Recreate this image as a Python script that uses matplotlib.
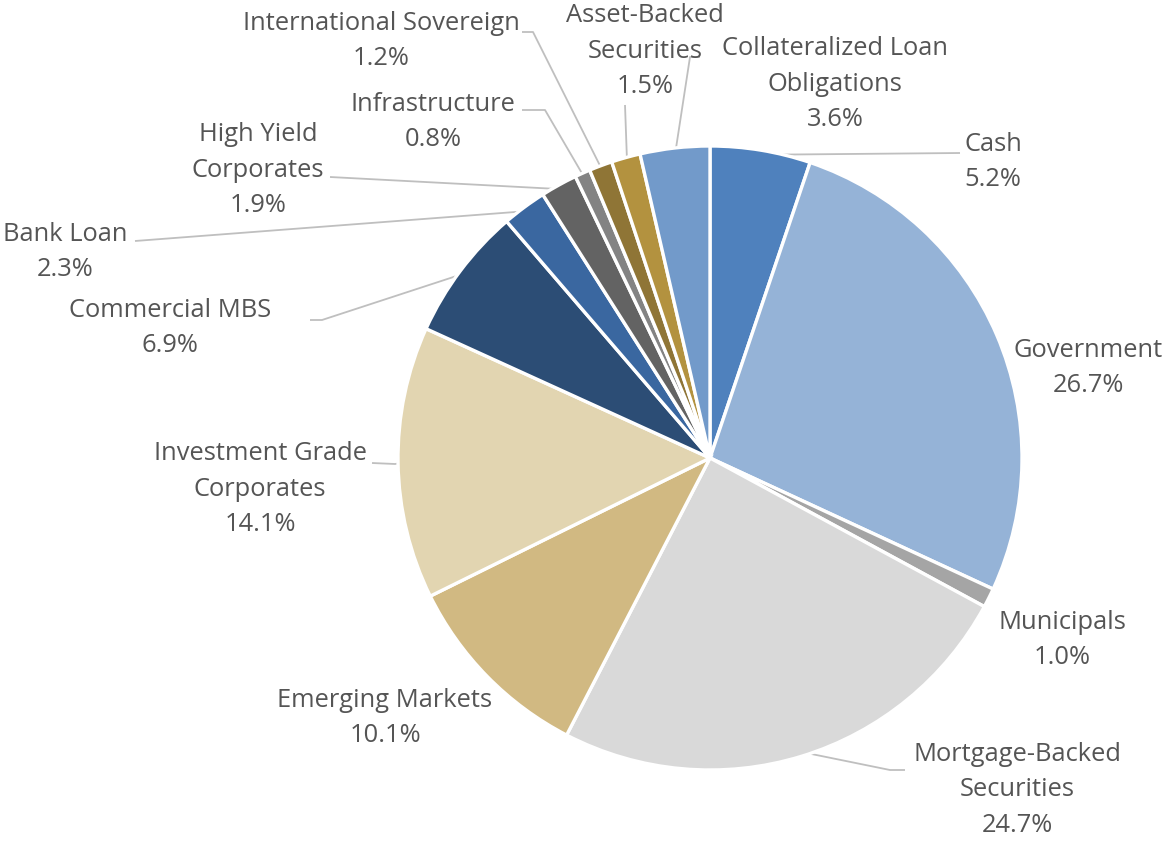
import numpy as np
import matplotlib
matplotlib.use("Agg")
import matplotlib.pyplot as plt

categories = ["Cash", "Government", "Municipals", "Mortgage-Backed\nSecurities",
              "Emerging Markets", "Investment Grade\nCorporates", "Commercial MBS",
              "Bank Loan", "High Yield\nCorporates", "Infrastructure",
              "International Sovereign", "Asset-Backed\nSecurities",
              "Collateralized Loan\nObligations"]
values = [5.2, 26.7, 1.0, 24.7, 10.1, 14.1, 6.9, 2.3, 1.9, 0.8, 1.2, 1.5, 3.6]
colors = ["#4F81BD", "#95B3D7", "#A5A5A5", "#D9D9D9", "#D1B982", "#E2D5B1",
          "#2C4D75", "#3A67A0", "#636363", "#838383", "#8F7536", "#B3923F", "#729ACA"]

W, H = 1162, 841
fig = plt.figure(figsize=(W / 100, H / 100), dpi=100)
ax = fig.add_axes([0, 0, 1, 1])

cx, cy, R = 710, H - 458, 312
wedges, _ = ax.pie(values, colors=colors, startangle=90, counterclock=False,
                   center=(cx, cy), radius=R, frame=False,
                   wedgeprops=dict(edgecolor="white", linewidth=2.4))
ax.set_xlim(0, W)
ax.set_ylim(0, H)
ax.set_aspect("equal")
ax.axis("off")

# label layout (pixel coords, y from top): text center, leader path end points
label_pos = [(993, 162), (1088, 368), (1062, 640), (1017, 790), (385, 718),
             (260, 489), (170, 328), (65, 252), (258, 170), (433, 122),
             (381, 41), (645, 51), (835, 84)]
leaders = {
    0: [(960, 153)],
    3: [(890, 770), (905, 770)],
    5: [(395, 464), (372, 463)],
    6: [(322, 320), (310, 320)],
    7: [(135, 241)],
    8: [(330, 177)],
    9: [(545, 110), (522, 110)],
    10: [(533, 32), (522, 32)],
    11: [(625, 105)],
    12: [(690, 57), (700, 57)],
}

txtcol = "#555555"
fs = 18.4
for i, (lab, v) in enumerate(zip(categories, values)):
    x, y = label_pos[i]
    ax.text(x, H - y, f"{lab}\n{v:.1f}%", ha="center", va="center",
            fontsize=fs, family=["Open Sans", "DejaVu Sans"], color=txtcol,
            linespacing=1.53)
    if i in leaders:
        w = wedges[i]
        mid = np.deg2rad((w.theta1 + w.theta2) / 2)
        sx, sy = cx + R * 0.985 * np.cos(mid), cy + R * 0.985 * np.sin(mid)
        pts = [(sx, sy)] + [(px, H - py) for px, py in leaders[i]]
        xs, ys = zip(*pts)
        ax.plot(xs, ys, color="#BFBFBF", linewidth=1.3, solid_capstyle="butt", zorder=0.5)

fig.savefig("out.png", dpi=100)
